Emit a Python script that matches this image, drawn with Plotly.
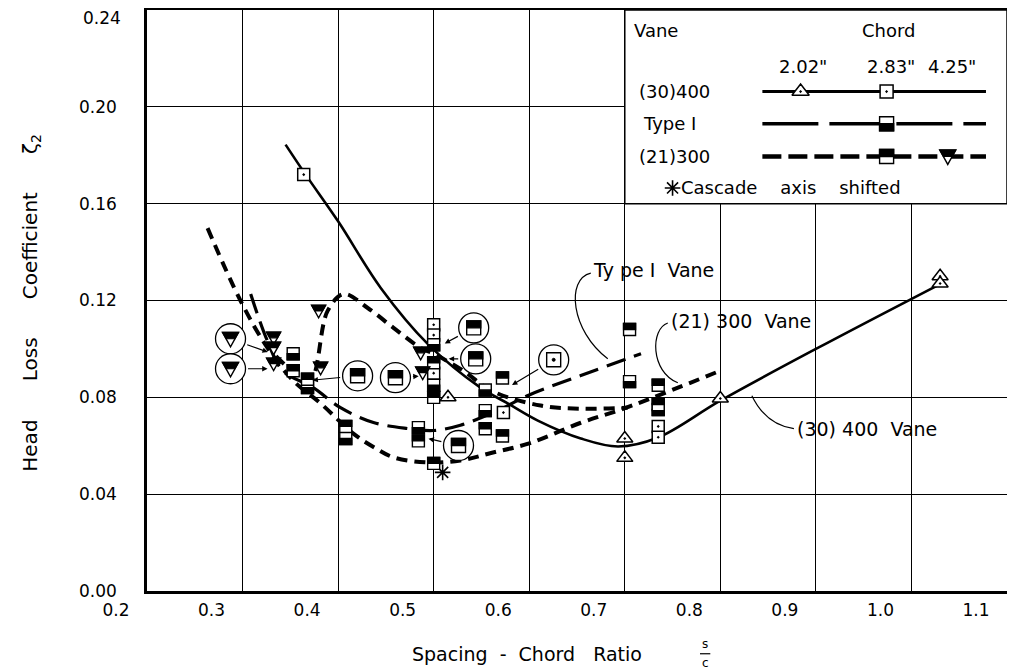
import plotly.graph_objects as go

# ---------------- axes ----------------
x_ticks = [0.2, 0.3, 0.4, 0.5, 0.6, 0.7, 0.8, 0.9, 1.0, 1.1]
x_tick_labels = ["0.2", "0.3", "0.4", "0.5", "0.6", "0.7", "0.8", "0.9", "1.0", "1.1"]
y_ticks = [0.00, 0.04, 0.08, 0.12, 0.16, 0.20, 0.24]
y_tick_labels = ["0.00", "0.04", "0.08", "0.12", "0.16", "0.20", "0.24"]

# ---------------- faired curves ----------------
# (30)400 vane, solid
c400_x = [0.345, 0.366, 0.400, 0.445, 0.494, 0.549, 0.578, 0.609, 0.654, 0.693, 0.735, 0.800, 0.900, 1.030]
c400_y = [0.1844, 0.172, 0.1527, 0.125, 0.102, 0.084, 0.0774, 0.0704, 0.063, 0.0597, 0.0634, 0.0786, 0.100, 0.1268]
# Type I vane, long dash
ctype1_x = [0.3085, 0.326, 0.342, 0.374, 0.4025, 0.437, 0.473, 0.500, 0.528, 0.567, 0.600, 0.654, 0.717]
ctype1_y = [0.1227, 0.1033, 0.091, 0.084, 0.0757, 0.0696, 0.0671, 0.0663, 0.0685, 0.0745, 0.081, 0.089, 0.098]
# (21)300 vane, 2.83" chord, short dash
c300a_x = [0.2634, 0.298, 0.326, 0.353, 0.382, 0.416, 0.437, 0.458, 0.4935, 0.528, 0.560, 0.600, 0.654, 0.700, 0.800]
c300a_y = [0.1499, 0.1198, 0.1005, 0.0869, 0.0774, 0.065, 0.0595, 0.0552, 0.0531, 0.0539, 0.057, 0.061, 0.0695, 0.0755, 0.091]
# (21)300 vane, 4.25" chord, short dash
c300b_x = [0.335, 0.355, 0.371, 0.389, 0.406, 0.431, 0.458, 0.486, 0.500, 0.531, 0.560, 0.612, 0.654, 0.703]
c300b_y = [0.097, 0.090, 0.087, 0.1157, 0.1227, 0.1169, 0.1087, 0.1005, 0.098, 0.091, 0.0828, 0.0766, 0.0753, 0.0757]

# ---------------- test points ----------------
tri400_x = [0.515, 0.700, 0.700, 0.800, 1.030, 1.030]
tri400_y = [0.080, 0.063, 0.055, 0.0795, 0.130, 0.127]
sq400_x = [0.364, 0.500, 0.500, 0.500, 0.573, 0.735, 0.735]
sq400_y = [0.172, 0.110, 0.1057, 0.090, 0.0737, 0.068, 0.0635]
typeI_x = [0.353, 0.368, 0.408, 0.484, 0.500, 0.500, 0.554, 0.554, 0.705, 0.735]
typeI_y = [0.098, 0.084, 0.063, 0.0675, 0.1017, 0.085, 0.083, 0.0745, 0.0865, 0.075]
s300_x = [0.353, 0.368, 0.408, 0.484, 0.500, 0.500, 0.500, 0.554, 0.572, 0.572, 0.705, 0.735, 0.735]
s300_y = [0.091, 0.0875, 0.068, 0.062, 0.0943, 0.080, 0.0527, 0.067, 0.088, 0.064, 0.108, 0.085, 0.077]
t300_x = [0.3325, 0.3325, 0.3325, 0.3796, 0.3817, 0.4864, 0.4885]
t300_y = [0.1046, 0.1005, 0.0939, 0.1157, 0.0922, 0.0984, 0.0902]
shifted_x = [0.5094]
shifted_y = [0.049]

# ---------------- callouts (enlarged circled points) ----------------
co_x = [0.2874, 0.2874, 0.4204, 0.460, 0.5419, 0.544, 0.526, 0.6256]
co_y = [0.1042, 0.0918, 0.0889, 0.0881, 0.1087, 0.0959, 0.0601, 0.0955]
co_tx = [0.3314, 0.3314, 0.368, 0.4895, 0.507, 0.5105, 0.4895, 0.5775]
co_ty = [0.098, 0.0918, 0.0869, 0.0889, 0.1013, 0.0959, 0.0634, 0.084]
co_kind = ["tri", "tri", "s300", "s300", "s300", "s300", "s300", "sq400"]

# ---------------- legend layout ----------------
leg_line_x = [0.844, 1.078]
leg_row_y = [0.2063, 0.193, 0.1795]
leg_chord_x = [0.884, 0.974, 1.038]

FONT = "DejaVu Sans"
BLK = "black"
NB = "\u00a0"

fig = go.Figure()

# curves
fig.add_trace(go.Scatter(x=c400_x, y=c400_y, mode="lines", line=dict(color=BLK, width=2.6, shape="spline", smoothing=1.0)))
fig.add_trace(go.Scatter(x=ctype1_x, y=ctype1_y, mode="lines", line=dict(color=BLK, width=3.2, dash="20px,9px", shape="spline", smoothing=1.0)))
fig.add_trace(go.Scatter(x=c300a_x, y=c300a_y, mode="lines", line=dict(color=BLK, width=4, dash="11px,7px", shape="spline", smoothing=1.0)))
fig.add_trace(go.Scatter(x=c300b_x, y=c300b_y, mode="lines", line=dict(color=BLK, width=4, dash="11px,7px", shape="spline", smoothing=1.0)))

# (30)400 markers
fig.add_trace(go.Scatter(x=tri400_x, y=tri400_y, mode="markers",
                         marker=dict(symbol="triangle-up-dot", size=14, color="white", line=dict(color=BLK, width=1.5))))
fig.add_trace(go.Scatter(x=sq400_x, y=sq400_y, mode="markers",
                         marker=dict(symbol="square-dot", size=12, color="white", line=dict(color=BLK, width=1.5))))
fig.add_trace(go.Scatter(x=shifted_x, y=shifted_y, mode="markers",
                         marker=dict(symbol="asterisk-open", size=13, color=BLK, line=dict(color=BLK, width=1.6))))

# legend sample lines
fig.add_trace(go.Scatter(x=leg_line_x, y=[leg_row_y[0]] * 2, mode="lines", line=dict(color=BLK, width=3)))
fig.add_trace(go.Scatter(x=leg_line_x, y=[leg_row_y[1]] * 2, mode="lines", line=dict(color=BLK, width=3.5, dash="56px,11px")))
fig.add_trace(go.Scatter(x=leg_line_x, y=[leg_row_y[2]] * 2, mode="lines", line=dict(color=BLK, width=4.5, dash="19px,7px")))
fig.add_trace(go.Scatter(x=[leg_chord_x[0]], y=[leg_row_y[0]], mode="markers",
                         marker=dict(symbol="triangle-up-dot", size=15, color="white", line=dict(color=BLK, width=1.5))))
fig.add_trace(go.Scatter(x=[leg_chord_x[1]], y=[leg_row_y[0]], mode="markers",
                         marker=dict(symbol="square-dot", size=13, color="white", line=dict(color=BLK, width=1.5))))

shapes = []
# legend box (above gridlines, below traces)
shapes.append(dict(type="rect", xref="x", yref="y", x0=0.7, x1=1.1, y0=0.16, y1=0.24,
                   fillcolor="white", line=dict(color=BLK, width=1.5), layer="between"))


def half_square(x, y, top_black, s=6):
    out = [dict(type="rect", xref="x", yref="y", xsizemode="pixel", ysizemode="pixel",
                xanchor=x, yanchor=y, x0=-s, x1=s, y0=-s, y1=s,
                fillcolor="white", line=dict(color=BLK, width=1.4), layer="above")]
    if top_black:
        y0, y1 = 0, s
    else:
        y0, y1 = -s, 0
    out.append(dict(type="rect", xref="x", yref="y", xsizemode="pixel", ysizemode="pixel",
                    xanchor=x, yanchor=y, x0=-s, x1=s, y0=y0, y1=y1,
                    fillcolor=BLK, line=dict(color=BLK, width=1.4), layer="above"))
    return out


def tri_down(x, y, s=7):
    h = s * 0.55
    return [
        dict(type="path", xref="x", yref="y", xsizemode="pixel", ysizemode="pixel",
             xanchor=x, yanchor=y, path=f"M {-s},{s * 0.8} L {s},{s * 0.8} L 0,{-s} Z",
             fillcolor="white", line=dict(color=BLK, width=1.4), layer="above"),
        dict(type="path", xref="x", yref="y", xsizemode="pixel", ysizemode="pixel",
             xanchor=x, yanchor=y, path=f"M {-s},{s * 0.8} L {s},{s * 0.8} L {h},0 L {-h},0 Z",
             fillcolor=BLK, line=dict(color=BLK, width=1.2), layer="above"),
    ]


def dot_square(x, y, s=7):
    return [
        dict(type="rect", xref="x", yref="y", xsizemode="pixel", ysizemode="pixel",
             xanchor=x, yanchor=y, x0=-s, x1=s, y0=-s, y1=s,
             fillcolor="white", line=dict(color=BLK, width=1.4), layer="above"),
        dict(type="circle", xref="x", yref="y", xsizemode="pixel", ysizemode="pixel",
             xanchor=x, yanchor=y, x0=-1.5, x1=1.5, y0=-1.5, y1=1.5,
             fillcolor=BLK, line=dict(color=BLK, width=1), layer="above"),
    ]


for x, y in zip(typeI_x, typeI_y):
    shapes += half_square(x, y, top_black=False)
for x, y in zip(s300_x, s300_y):
    shapes += half_square(x, y, top_black=True)
for x, y in zip(t300_x, t300_y):
    shapes += tri_down(x, y)

# callouts
annotations = []
for cx, cy, tx, ty, kind in zip(co_x, co_y, co_tx, co_ty, co_kind):
    annotations.append(dict(x=tx, y=ty, ax=cx, ay=cy, xref="x", yref="y", axref="x", ayref="y",
                            text=" ", showarrow=True, arrowhead=2, arrowsize=0.9, arrowwidth=1.2,
                            arrowcolor=BLK, startstandoff=14, standoff=5))
    shapes.append(dict(type="circle", xref="x", yref="y", xsizemode="pixel", ysizemode="pixel",
                       xanchor=cx, yanchor=cy, x0=-15, x1=15, y0=-15, y1=15,
                       fillcolor="white", line=dict(color=BLK, width=1.3), layer="above"))
    if kind == "tri":
        shapes += tri_down(cx, cy, s=8)
    elif kind == "s300":
        shapes += half_square(cx, cy, top_black=True, s=7)
    else:
        shapes += dot_square(cx, cy, s=7)

# legend half markers
shapes += half_square(leg_chord_x[1], leg_row_y[1], top_black=False, s=7)
shapes += half_square(leg_chord_x[1], leg_row_y[2], top_black=True, s=7)
shapes += tri_down(leg_chord_x[2], leg_row_y[2], s=8)

# curved leaders for the curve labels
shapes.append(dict(type="path", xref="x", yref="y", layer="above", line=dict(color=BLK, width=1.2),
                   path="M 0.6644,0.1313 C 0.6382,0.1289 0.6435,0.1075 0.6822,0.0959"))
shapes.append(dict(type="path", xref="x", yref="y", layer="above", line=dict(color=BLK, width=1.2),
                   path="M 0.745,0.1107 C 0.7267,0.1083 0.7267,0.0906 0.7555,0.0860"))
shapes.append(dict(type="path", xref="x", yref="y", layer="above", line=dict(color=BLK, width=1.2),
                   path="M 0.877,0.0671 C 0.853,0.0684 0.8405,0.0746 0.833,0.0807"))

lab_font = dict(family=FONT, size=19, color=BLK)
annotations += [
    dict(x=0.6644, y=0.1325, xref="x", yref="y", text=f"Ty pe I{NB}{NB}Vane", showarrow=False,
         xanchor="left", font=lab_font),
    dict(x=0.746, y=0.1115, xref="x", yref="y", text=f"(21) 300{NB}{NB}Vane", showarrow=False,
         xanchor="left", font=lab_font),
    dict(x=0.878, y=0.0668, xref="x", yref="y", text=f"(30) 400{NB}{NB}Vane", showarrow=False,
         xanchor="left", font=lab_font),
]

# legend text
leg_font = dict(family=FONT, size=18, color=BLK)
annotations += [
    dict(x=0.7325, y=0.2315, xref="x", yref="y", text="Vane", showarrow=False, font=leg_font),
    dict(x=0.976, y=0.2315, xref="x", yref="y", text="Chord", showarrow=False, font=leg_font),
    dict(x=0.887, y=0.2165, xref="x", yref="y", text='2.02"', showarrow=False, font=leg_font),
    dict(x=0.9785, y=0.2165, xref="x", yref="y", text='2.83"', showarrow=False, font=leg_font),
    dict(x=1.042, y=0.2165, xref="x", yref="y", text='4.25"', showarrow=False, font=leg_font),
    dict(x=0.7126, y=leg_row_y[0], xref="x", yref="y", text="(30)400", showarrow=False, xanchor="left", font=leg_font),
    dict(x=0.717, y=leg_row_y[1], xref="x", yref="y", text="Type I", showarrow=False, xanchor="left", font=leg_font),
    dict(x=0.7126, y=leg_row_y[2], xref="x", yref="y", text="(21)300", showarrow=False, xanchor="left", font=leg_font),
    dict(x=0.757, y=0.1665, xref="x", yref="y", text=f"Cascade{NB*4}axis{NB*4}shifted", showarrow=False,
         xanchor="left", font=leg_font),
]
fig.add_trace(go.Scatter(x=[0.750], y=[0.1665], mode="markers",
                         marker=dict(symbol="asterisk-open", size=13, color=BLK, line=dict(color=BLK, width=1.6))))

# top y tick label sits a little below its gridline in the reference
annotations.append(dict(x=0, xref="paper", y=y_ticks[-1], yref="y", xanchor="right", yanchor="middle",
                        xshift=-24, yshift=-8, showarrow=False, text=y_tick_labels[-1],
                        font=dict(family=FONT, size=17, color=BLK)))
y_tick_text = y_tick_labels[:-1] + [""]

# axis titles
annotations += [
    dict(x=-0.135, y=0.496, xref="paper", yref="paper", textangle=-90, showarrow=False,
         xanchor="center", yanchor="middle",
         text=f"Head{NB*6}Loss{NB*6}Coefficient{NB*6}\u03b6<sub>2</sub>",
         font=dict(family=FONT, size=20, color=BLK)),
    dict(x=0.442, y=-0.109, xref="paper", yref="paper", showarrow=False,
         xanchor="center", yanchor="middle",
         text=f"Spacing{NB*2}-{NB*2}Chord{NB*3}Ratio",
         font=dict(family=FONT, size=19, color=BLK)),
    dict(x=0.649, y=-0.092, xref="paper", yref="paper", showarrow=False, text="s",
         xanchor="center", yanchor="middle", font=dict(family=FONT, size=12, color=BLK)),
    dict(x=0.649, y=-0.124, xref="paper", yref="paper", showarrow=False, text="c",
         xanchor="center", yanchor="middle", font=dict(family=FONT, size=12, color=BLK)),
]
shapes.append(dict(type="line", xref="paper", yref="paper", x0=0.643, x1=0.655, y0=-0.108, y1=-0.108,
                   line=dict(color=BLK, width=1.2)))

# the page body adds an 8px offset; the figure is sized so the plot area lands where the reference has it
fig.update_layout(
    width=1007, height=663,
    margin=dict(l=139, r=8, t=2, b=80, autoexpand=False),
    paper_bgcolor="white", plot_bgcolor="white",
    showlegend=False,
    shapes=shapes, annotations=annotations,
    font=dict(family=FONT, color=BLK),
    xaxis=dict(range=[0.2, 1.1], tickvals=x_ticks, ticktext=x_tick_labels,
               showgrid=True, gridcolor=BLK, gridwidth=1.3, zeroline=False,
               showline=True, mirror=True, linecolor=BLK, linewidth=2.5,
               ticks="", ticklabelshift=-31, ticklabelstandoff=2, automargin=False,
               tickfont=dict(family=FONT, size=17, color=BLK)),
    yaxis=dict(range=[0, 0.24], tickvals=y_ticks, ticktext=y_tick_text,
               showgrid=True, gridcolor=BLK, gridwidth=1.3, zeroline=False,
               showline=True, mirror=True, linecolor=BLK, linewidth=2.5,
               ticks="", ticklabelstandoff=24, automargin=False,
               tickfont=dict(family=FONT, size=17, color=BLK)),
)

fig.write_html("out.html")
